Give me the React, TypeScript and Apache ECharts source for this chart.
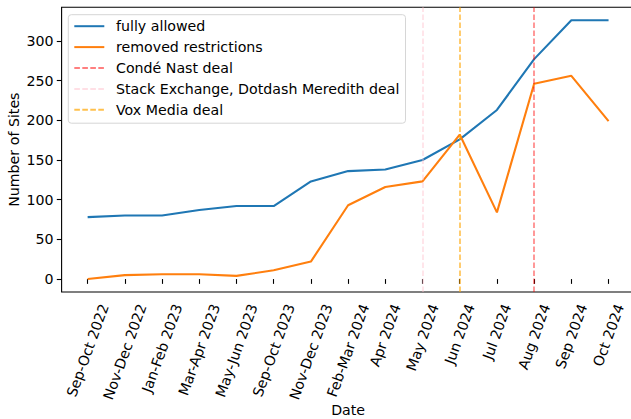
import React, { useEffect, useRef } from 'react';
import * as echarts from 'echarts';

// ---- data ----
const categories = [
  'Sep-Oct 2022', 'Nov-Dec 2022', 'Jan-Feb 2023', 'Mar-Apr 2023', 'May-Jun 2023',
  'Sep-Oct 2023', 'Nov-Dec 2023', 'Feb-Mar 2024', 'Apr 2024', 'May 2024',
  'Jun 2024', 'Jul 2024', 'Aug 2024', 'Sep 2024', 'Oct 2024',
];
const fullyAllowed = [78, 80, 80, 87, 92, 92, 123, 136, 138, 150, 176, 213, 277, 326, 326];
const removedRestrictions = [0, 5, 6, 6, 4, 11, 22, 93, 116, 123, 182, 84, 246, 256, 199];
const dealNames = ['Condé Nast deal', 'Stack Exchange, Dotdash Meredith deal', 'Vox Media deal'];
const dealDates = ['Aug 2024', 'May 2024', 'Jun 2024'];
const yTicks = [0, 50, 100, 150, 200, 250, 300];

// ---- styles ----
const FONT = 'DejaVu Sans';
const FS = 14.2;
const seriesColors = ['#1f77b4', '#ff7f0e'];
const dealColors = ['rgba(255,0,0,0.5)', 'rgba(255,192,203,0.5)', 'rgba(255,165,0,0.7)'];
const DASH = [5.6, 2.4];
const ROT = 70;

function measure(text: string): number {
  const ctx = document.createElement('canvas').getContext('2d');
  if (!ctx) return text.length * FS * 0.6;
  ctx.font = `normal normal ${FS}px ${FONT}`;
  return ctx.measureText(text).width;
}

export default function App() {
  const ref = useRef<HTMLDivElement>(null);

  useEffect(() => {
    document.body.style.margin = '0';
    if (!ref.current) return;
    const chart = echarts.init(ref.current, null, { renderer: 'svg' });

    const plotLeft = 61.6;
    const plotRightEdge = 634.6;
    const W = 631;
    const unit = (plotRightEdge - plotLeft) / 15.4;
    const catLeft = plotLeft + 0.2 * unit;
    const catRight = W - catLeft - 15 * unit;
    const top = 7.3;
    const axisY = 292;
    const bottom = 419 - axisY;

    const textBase = { fontFamily: FONT, fontSize: FS, color: '#000' };

    const option: any = {
      animation: false,
      backgroundColor: '#fff',
      grid: [
        { left: catLeft, right: catRight, top, bottom, outerBoundsMode: 'none', containLabel: false },
        {
          left: plotLeft, right: W - plotRightEdge, top, bottom, show: true,
          borderColor: '#000', borderWidth: 1.1, backgroundColor: 'transparent',
          outerBoundsMode: 'none', containLabel: false,
        },
      ],
      xAxis: [
        {
          type: 'category',
          gridIndex: 0,
          data: categories,
          boundaryGap: true,
          name: 'Date',
          nameLocation: 'middle',
          nameGap: 117.5,
          nameMoveOverlap: false,
          nameTextStyle: { ...textBase, verticalAlign: 'middle' },
          axisLine: { show: false },
          axisTick: { show: true, alignWithLabel: true, interval: 0, length: 4.8, lineStyle: { color: '#000', width: 1.1 } },
          axisLabel: { show: false, interval: 0 },
          splitLine: { show: false },
        },
        { type: 'value', gridIndex: 1, show: false, min: 0, max: 1 },
      ],
      yAxis: [
        {
          type: 'value',
          gridIndex: 0,
          min: -16.3,
          max: 342.3,
          offset: catLeft - plotLeft,
          name: 'Number of Sites',
          nameLocation: 'middle',
          nameGap: 48,
          nameMoveOverlap: false,
          nameTextStyle: { ...textBase, verticalAlign: 'middle' },
          axisLine: { show: false },
          axisTick: { show: true, customValues: yTicks, length: 4.8, lineStyle: { color: '#000', width: 1.1 } },
          axisLabel: { ...textBase, customValues: yTicks, margin: 8 },
          splitLine: { show: false },
        },
        { type: 'value', gridIndex: 1, show: false, min: 0, max: 1 },
      ],
      legend: {
        orient: 'vertical',
        left: 68.3,
        top: 14.7,
        data: ['fully allowed', 'removed restrictions', ...dealNames],
        itemWidth: 30,
        itemHeight: 14,
        itemGap: 6.9,
        padding: [4.5, 6, 6.4, 5],
        backgroundColor: 'rgba(255,255,255,0.8)',
        borderColor: '#d6d6d6',
        borderWidth: 1,
        borderRadius: 3,
        selectedMode: false,
        itemStyle: { opacity: 0 },
        textStyle: { ...textBase, padding: [0, 0, 0, 6.7] },
      },
      series: [
        {
          name: 'fully allowed', type: 'line', xAxisIndex: 0, yAxisIndex: 0,
          data: fullyAllowed, symbol: 'none', showSymbol: false,
          lineStyle: { color: seriesColors[0], width: 2.1 }, itemStyle: { color: seriesColors[0] },
        },
        {
          name: 'removed restrictions', type: 'line', xAxisIndex: 0, yAxisIndex: 0,
          data: removedRestrictions, symbol: 'none', showSymbol: false,
          lineStyle: { color: seriesColors[1], width: 2.1 }, itemStyle: { color: seriesColors[1] },
        },
        ...dealNames.map((n, i) => ({
          name: n, type: 'line', xAxisIndex: 0, yAxisIndex: 0,
          data: [], symbol: 'none', showSymbol: false,
          lineStyle: { color: dealColors[i], width: 1.6, type: DASH },
          itemStyle: { color: dealColors[i] },
          markLine: {
            silent: true,
            symbol: ['none', 'none'],
            label: { show: false },
            emphasis: { disabled: true },
            lineStyle: { color: dealColors[i], width: 1.6, type: DASH },
            data: [{ xAxis: categories.indexOf(dealDates[i]) }],
          },
        })),
      ],
    };

    chart.setOption(option);

    // Rotated tick labels placed like matplotlib (rotation=70, ha=center, va=top)
    const rad = (ROT * Math.PI) / 180;
    const lineH = 1.164 * FS;
    const labelTop = axisY + 4.8 + 5;
    const endY = labelTop + Math.cos(rad) * lineH / 2;
    const labels = categories.map((c, i) => {
      const px = chart.convertToPixel({ xAxisIndex: 0 }, i) as number;
      const w = measure(c);
      return {
        type: 'text',
        x: px,
        y: endY + Math.sin(rad) * w / 2,
        rotation: rad,
        silent: true,
        style: {
          text: c,
          fontFamily: FONT,
          fontSize: FS,
          fill: '#000',
          align: 'center',
          verticalAlign: 'middle',
          textAlign: 'center',
          textVerticalAlign: 'middle',
        },
      };
    });
    chart.setOption({ graphic: labels });

    return () => chart.dispose();
  }, []);

  return <div ref={ref} style={{ width: 631, height: 419 }} />;
}
